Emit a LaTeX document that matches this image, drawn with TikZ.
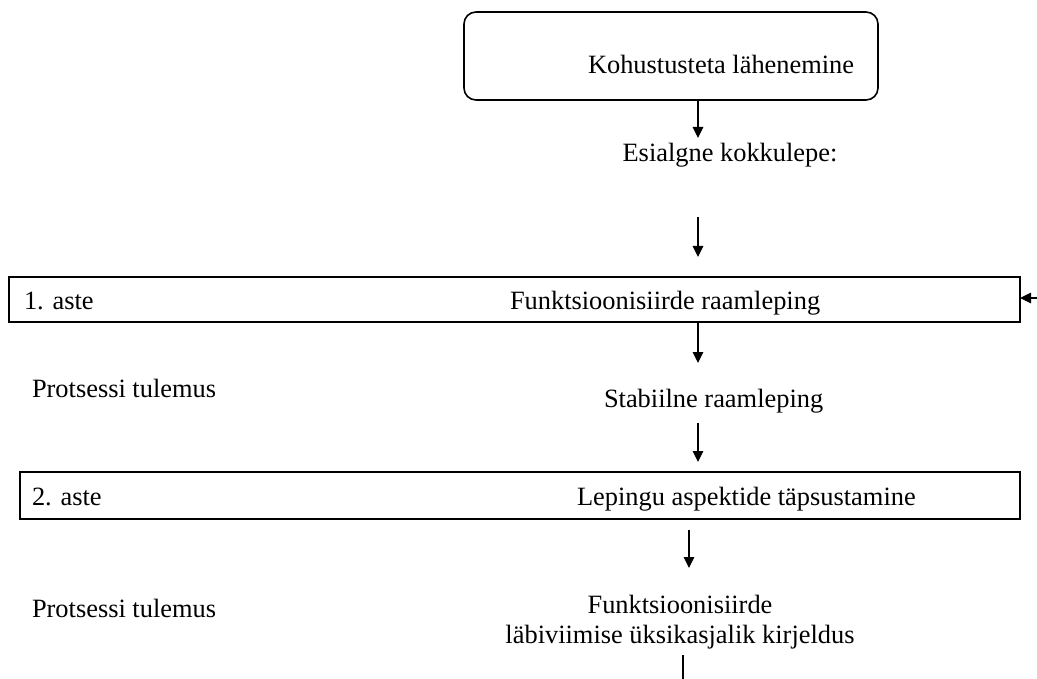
\documentclass[tikz,border=0pt]{standalone}
\usepackage{fontspec}
\setmainfont{Liberation Serif}
\usetikzlibrary{arrows.meta}
\begin{document}
\begin{tikzpicture}[x=1pt,y=-1pt,
  every node/.style={inner sep=0pt, outer sep=0pt},
  lbl/.style={font=\fontsize{26.4}{30}\selectfont, anchor=base west},
  clbl/.style={font=\fontsize{26.4}{30}\selectfont, align=center},
  framebox/.style={draw, line width=1.3pt},
  arr/.style={line width=1.2pt, -{Triangle[length=11pt,width=10.5pt]}},
  plain/.style={line width=1.2pt}]
\useasboundingbox (0,0) rectangle (1037,679);

% start box
\node[framebox, line width=1.6pt, rounded corners=12pt, minimum width=414pt, minimum height=88pt] (start) at (671,56) {};
\node[lbl] (startT) at (588,74) {Kohustusteta lähenemine};

% preliminary agreement
\coordinate (a1) at (698,138);
\draw[arr] (start.south -| a1) -- (a1);
\node[lbl, anchor=base] (prelim) at (730,162) {Esialgne kokkulepe:};
\coordinate (a2s) at (698,217);
\coordinate (a2e) at (698,257);
\draw[arr] (a2s) -- (a2e);

% stage 1
\node[framebox, minimum width=1011pt, minimum height=45pt] (st1) at (514.5,299.5) {};
\node[lbl] (st1a) at (24,310) {1. aste};
\node[lbl] (st1b) at (510,310) {Funktsioonisiirde raamleping};
\coordinate (fb) at (1037,298);
\draw[arr] (fb) -- (fb -| st1.east);

\coordinate (a3) at (698,363);
\draw[arr] (st1.south -| a3) -- (a3);
\node[lbl] (res1) at (32,397) {Protsessi tulemus};
\node[lbl] (stab) at (604,407) {Stabiilne raamleping};
\coordinate (a4s) at (698,423);
\coordinate (a4e) at (698,462);
\draw[arr] (a4s) -- (a4e);

% stage 2
\node[framebox, minimum width=1000pt, minimum height=47pt] (st2) at (520,495.5) {};
\node[lbl] (st2a) at (32,505) {2. aste};
\node[lbl] (st2b) at (577,505) {Lepingu aspektide täpsustamine};

\coordinate (a5s) at (689,530);
\coordinate (a5e) at (689,568);
\draw[arr] (a5s) -- (a5e);
\node[lbl] (res2) at (32,617) {Protsessi tulemus};
\node[clbl, anchor=base] (desc) at (680,643) {Funktsioonisiirde\\läbiviimise üksikasjalik kirjeldus};
\coordinate (l6s) at (683,655);
\coordinate (l6e) at (683,679);
\draw[plain] (l6s) -- (l6e);
\end{tikzpicture}
\end{document}
